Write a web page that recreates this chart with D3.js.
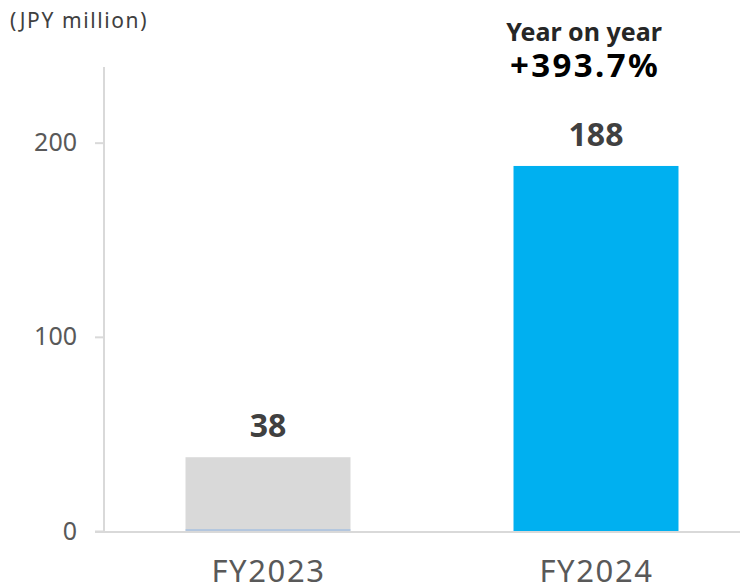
<!DOCTYPE html>
<html>
<head>
<meta charset="utf-8">
<script src="https://cdn.jsdelivr.net/npm/d3@7"></script>
<style>
  html, body { margin: 0; padding: 0; background: #fff; }
  svg { display: block; font-family: "Noto Sans", sans-serif; }
</style>
</head>
<body>
<svg id="chart" width="740" height="588"></svg>
<script>
// Fiscal-year revenue, JPY million
const categories = ["FY2023", "FY2024"];
const values = [38, 188];
const valueLabels = ["38", "188"];
const barColors = ["#d9d9d9", "#00b0f0"];
const yTicks = [0, 100, 200];
const unitLabel = "(JPY million)";
const growthLines = ["Year on year", "+393.7%"];

const svg = d3.select("#chart");
const axisColor = "#d9d9d9";

const x = d3.scaleBand()
  .domain(categories)
  .range([104, 760])
  .paddingInner(0.497)
  .paddingOuter(0.2485);

const y = d3.scaleLinear()
  .domain([0, 240])
  .range([531, 65]);

// unit caption
svg.append("text")
  .attr("x", 10)
  .attr("y", 28)
  .attr("font-size", 21)
  .attr("letter-spacing", 1.6)
  .attr("fill", "#404040")
  .text(unitLabel);

// bars
svg.selectAll("rect.bar")
  .data(values)
  .join("rect")
  .attr("class", "bar")
  .attr("x", (d, i) => x(categories[i]))
  .attr("width", x.bandwidth())
  .attr("y", d => y(d))
  .attr("height", d => y(0) - y(d))
  .attr("fill", (d, i) => barColors[i]);

// thin outline at the foot of the first bar
svg.append("line")
  .attr("x1", x(categories[0]))
  .attr("x2", x(categories[0]) + x.bandwidth())
  .attr("y1", y(0) - 1)
  .attr("y2", y(0) - 1)
  .attr("stroke", "#8eb4e3")
  .attr("stroke-width", 1);

// y axis
const yAxis = d3.axisLeft(y).tickValues(yTicks).tickSize(9).tickPadding(18);
const gy = svg.append("g").attr("transform", "translate(104,0)").call(yAxis);
gy.select(".domain").remove();
gy.selectAll(".tick line").attr("stroke", axisColor).attr("stroke-width", 2);
gy.selectAll(".tick text")
  .attr("font-size", 25)
  .attr("fill", "#595959")
  .attr("font-family", "'Noto Sans', sans-serif");
gy.append("line")
  .attr("x1", 0).attr("x2", 0)
  .attr("y1", y(240) + 2).attr("y2", y(0))
  .attr("stroke", axisColor).attr("stroke-width", 2);

// x axis baseline and labels
svg.append("line")
  .attr("x1", 95).attr("x2", 740)
  .attr("y1", y(0) + 1).attr("y2", y(0) + 1)
  .attr("stroke", axisColor).attr("stroke-width", 2);

svg.selectAll("text.cat")
  .data(categories)
  .join("text")
  .attr("class", "cat")
  .attr("x", d => x(d) + x.bandwidth() / 2 + 0.5)
  .attr("y", 582)
  .attr("text-anchor", "middle")
  .attr("font-size", 31)
  .attr("letter-spacing", 1.6)
  .attr("fill", "#595959")
  .text(d => d);

// value labels
svg.selectAll("text.val")
  .data(values)
  .join("text")
  .attr("class", "val")
  .attr("x", (d, i) => x(categories[i]) + x.bandwidth() / 2)
  .attr("y", d => y(d) - 20)
  .attr("text-anchor", "middle")
  .attr("font-size", 32)
  .attr("font-weight", "bold")
  .attr("fill", "#404040")
  .text((d, i) => valueLabels[i]);

// year-on-year growth callout
const cx = x(categories[1]) + x.bandwidth() / 2 - 12;
svg.append("text")
  .attr("x", cx).attr("y", 41)
  .attr("text-anchor", "middle")
  .attr("font-size", 25)
  .attr("font-weight", "bold")
  .attr("fill", "#262626")
  .text(growthLines[0]);
svg.append("text")
  .attr("x", cx + 1).attr("y", 77)
  .attr("text-anchor", "middle")
  .attr("font-size", 33)
  .attr("font-weight", "bold")
  .attr("letter-spacing", 2.4)
  .attr("fill", "#000")
  .text(growthLines[1]);
</script>
</body>
</html>
